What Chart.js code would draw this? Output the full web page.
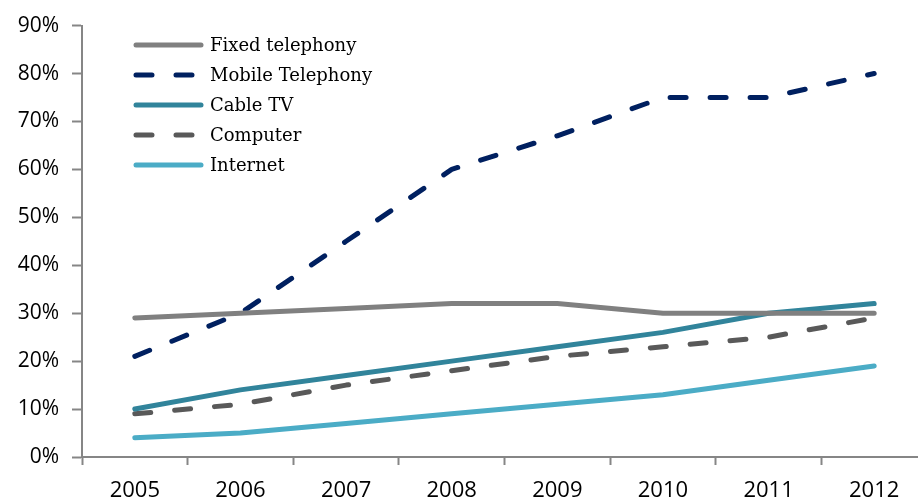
<!DOCTYPE html>
<html>
<head>
<meta charset="utf-8">
<script src="https://cdn.jsdelivr.net/npm/chart.js@4/dist/chart.umd.min.js"></script>
<style>
  html, body { margin: 0; padding: 0; background: #fff; overflow: hidden; }
  #wrap { width: 918px; height: 502px; overflow: hidden; }
</style>
</head>
<body>
<div id="wrap"><canvas id="chart" width="930" height="502"></canvas></div>
<script>
// Chart data
const years = ['2005', '2006', '2007', '2008', '2009', '2010', '2011', '2012'];
const fixedTelephony = [29, 30, 31, 32, 32, 30, 30, 30];
const mobileTelephony = [21, 30, 45, 60, 67, 75, 75, 80];
const cableTV = [10, 14, 17, 20, 23, 26, 30, 32];
const computer = [9, 11, 15, 18, 21, 23, 25, 29];
const internet = [4, 5, 7, 9, 11, 13, 16, 19];
const yTicks = [0, 10, 20, 30, 40, 50, 60, 70, 80, 90];

const dash = [16, 24];

function series(label, data, color, dashed) {
  return {
    label: label,
    data: data,
    borderColor: color,
    backgroundColor: color,
    borderWidth: 5,
    borderDash: dashed ? dash : [],
    borderCapStyle: 'round',
    borderJoinStyle: 'round',
    pointRadius: 0,
    tension: 0,
    fill: false
  };
}

// Legend drawn inside the plot, top-left
const insideLegend = {
  id: 'insideLegend',
  afterDatasetsDraw(chart) {
    const ctx = chart.ctx;
    ctx.save();
    chart.data.datasets.forEach((ds, i) => {
      const y = 45 + i * 30;
      ctx.beginPath();
      ctx.strokeStyle = ds.borderColor;
      ctx.lineWidth = ds.borderWidth;
      ctx.lineCap = 'round';
      ctx.setLineDash(ds.borderDash);
      ctx.moveTo(136, y);
      ctx.lineTo(201, y);
      ctx.stroke();
      ctx.setLineDash([]);
      ctx.fillStyle = '#000';
      ctx.font = '18px "DejaVu Serif"';
      ctx.textBaseline = 'middle';
      ctx.textAlign = 'left';
      ctx.fillText(ds.label, 210, y + 1);
    });
    ctx.restore();
  }
};

new Chart(document.getElementById('chart'), {
  type: 'line',
  data: {
    labels: years,
    datasets: [
      series('Fixed telephony', fixedTelephony, '#808080', false),
      series('Mobile Telephony', mobileTelephony, '#002060', true),
      series('Cable TV', cableTV, '#31849B', false),
      series('Computer', computer, '#595959', true),
      series('Internet', internet, '#4BACC6', false)
    ]
  },
  options: {
    responsive: false,
    animation: false,
    layout: { padding: { top: 25, right: 3, left: 0, bottom: 0 } },
    plugins: {
      legend: { display: false },
      tooltip: { enabled: false }
    },
    scales: {
      x: {
        offset: true,
        grid: {
          offset: true,
          drawOnChartArea: false,
          tickLength: 8,
          tickColor: '#868686',
          tickWidth: 2
        },
        border: { color: '#868686', width: 2 },
        ticks: {
          color: '#000',
          font: { family: '"Open Sans"', size: 22 },
          padding: 13,
          maxRotation: 0
        },
        afterFit(scale) { scale.height = 45; }
      },
      y: {
        min: 0,
        max: 90,
        afterBuildTicks(scale) { scale.ticks = yTicks.map(v => ({ value: v })); },
        grid: {
          drawOnChartArea: false,
          tickLength: 10,
          tickColor: '#868686',
          tickWidth: 2
        },
        border: { color: '#868686', width: 2 },
        ticks: {
          color: '#000',
          font: { family: '"Open Sans"', size: 21 },
          padding: 13,
          callback: v => v + '%'
        },
        afterFit(scale) { scale.width = 82; }
      }
    }
  },
  plugins: [insideLegend]
});
</script>
</body>
</html>
